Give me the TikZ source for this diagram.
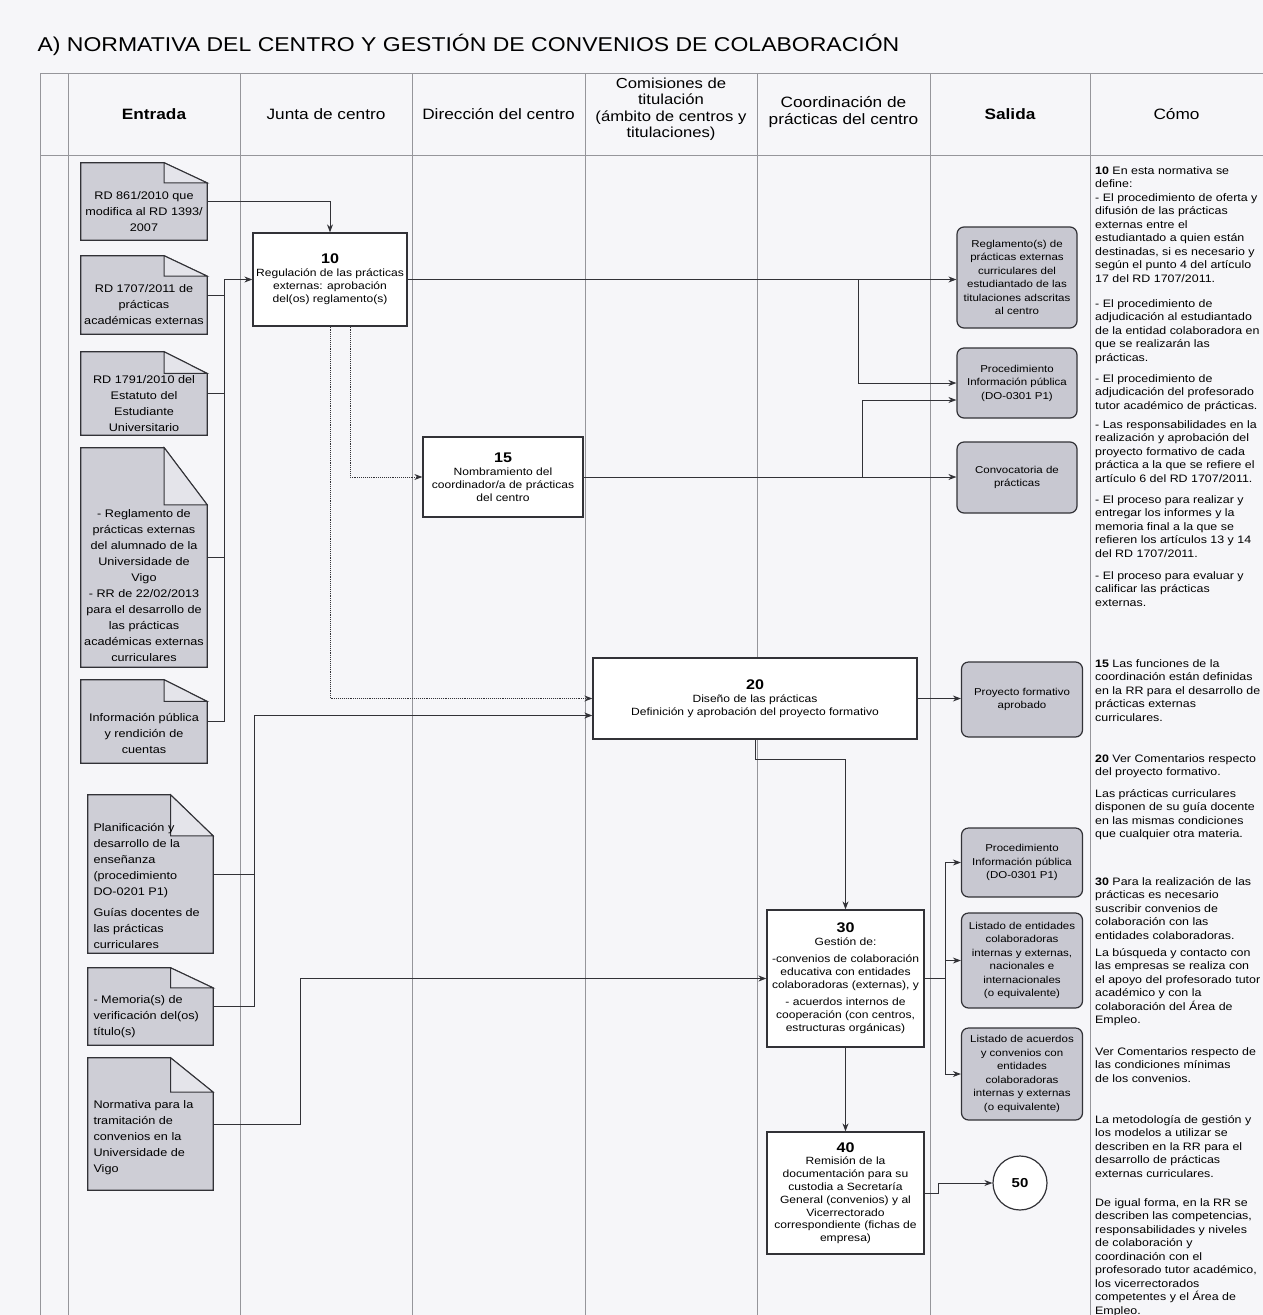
\documentclass[tikz,border=0pt]{standalone}
\usepackage{fontspec}
\setmainfont[FakeStretch=1.15]{Liberation Sans}
\usetikzlibrary{shapes,arrows,arrows.meta,positioning,backgrounds,calc}
\definecolor{paper}{RGB}{246,246,249}
\definecolor{docgray}{RGB}{206,206,214}
\definecolor{flapgray}{RGB}{228,228,234}
\definecolor{outgray}{RGB}{200,200,209}
\definecolor{gridgray}{RGB}{150,150,155}
\definecolor{ink}{RGB}{50,50,55}

% text of a document shape, pushed down below the folded corner
\newcommand{\docbody}[3]{\raisebox{-#1}[\height][\depth]{\parbox{#2}{#3}}}

\begin{document}
\begin{tikzpicture}[x=1pt, y=-1pt,
    lane/.style={draw=gridgray, line width=0.7pt},
    head/.style={font=\fontsize{15}{17}\selectfont, align=center},
    doc/.style={rectangle, inner sep=0pt, minimum width=126pt, font=\fontsize{11}{16}\selectfont},
    proc/.style={rectangle, draw=ink, fill=white, line width=1.3pt, align=center, inner sep=0pt, font=\fontsize{10.5}{13}\selectfont},
    outbox/.style={rectangle, rounded corners=7pt, draw=ink, fill=outgray, line width=1.2pt, align=center, inner sep=0pt, font=\fontsize{10}{13.5}\selectfont},
    como/.style={anchor=north west, align=left, inner sep=0pt, font=\fontsize{10.8}{13.5}\selectfont},
    arrow/.style={-{Stealth[length=8pt,width=6pt]}, draw=ink, line width=0.9pt},
    dotarrow/.style={arrow, densely dotted},
    conn/.style={draw=ink, line width=0.9pt}
]
\path[use as bounding box] (0,0) rectangle (1263,1315);
\begin{scope}[on background layer]
  \fill[paper] (0,0) rectangle (1263,1315);
\end{scope}
\clip (0,0) rectangle (1263,1315);

% swimlanes
\draw[lane] (40,73) -- (1263,73);
\draw[lane] (40,155) -- (1263,155);
\foreach \x in {40,68,240,412,585,757,930,1090}
  \draw[lane] (\x,73) -- (\x,1315);

\node[anchor=west, font=\fontsize{20}{24}\selectfont] (title) at (34,45) {A) NORMATIVA DEL CENTRO Y GESTIÓN DE CONVENIOS DE COLABORACIÓN};

\node[head, font=\fontsize{15}{17}\selectfont\bfseries] (hentrada) at (154,114) {Entrada};
\node[head] (hjunta) at (326,114) {Junta de centro};
\node[head] (hdireccion) at (498.5,114) {Dirección del centro};
\node[head, font=\fontsize{14.5}{16.5}\selectfont] (hcomisiones) at (671,109) {Comisiones de\\titulación\\(ámbito de centros y\\titulaciones)};
\node[head] (hcoord) at (843.5,112) {Coordinación de\\prácticas del centro};
\node[head, font=\fontsize{15}{17}\selectfont\bfseries] (hsalida) at (1010,114) {Salida};
\node[head] (hcomo) at (1176.5,114) {Cómo};

% entradas
\node[doc, minimum height=77pt] (rd861) at (144,201.5) {\docbody{10pt}{120pt}{\centering RD 861/2010 que\\modifica al RD 1393/\\2007}};
\node[doc, minimum height=78pt] (rd1707) at (144,295) {\docbody{10pt}{120pt}{\centering RD 1707/2011 de\\prácticas\\académicas externas}};
\node[doc, minimum height=83pt] (rd1791) at (144,393.5) {\docbody{10pt}{120pt}{\centering RD 1791/2010 del\\Estatuto del\\Estudiante\\Universitario}};
\node[doc, minimum height=219pt] (regl) at (144,557.5) {\docbody{28pt}{120pt}{\centering - Reglamento de\\prácticas externas\\del alumnado de la\\Universidade de\\Vigo\\- RR de 22/02/2013\\para el desarrollo de\\las prácticas\\académicas externas\\curriculares}};
\node[doc, minimum height=83pt] (infopub) at (144,721.5) {\docbody{12pt}{120pt}{\centering Información pública\\y rendición de\\cuentas}};
\node[doc, minimum width=125pt, minimum height=158pt] (planif) at (150.5,874) {\docbody{12pt}{114pt}{\raggedright Planificación y\\desarrollo de la\\enseñanza\\(procedimiento\\DO-0201 P1)\\[5pt]Guías docentes de\\las prácticas\\curriculares}};
\node[doc, minimum width=125pt, minimum height=77pt] (memoria) at (150.5,1006.5) {\docbody{10pt}{114pt}{\raggedright - Memoria(s) de\\verificación del(os)\\título(s)}};
\node[doc, minimum width=125pt, minimum height=132pt] (normconv) at (150.5,1124) {\docbody{14pt}{114pt}{\raggedright Normativa para la\\tramitación de\\convenios en la\\Universidade de\\Vigo}};

\foreach \d in {rd861,rd1707,rd1791,regl,infopub,planif,memoria,normconv} {
  \begin{scope}[on background layer]
    \coordinate (f1) at ($(\d.north east)!0.34!(\d.north west)$);
    \coordinate (f2) at ($(\d.north east)!0.26!(\d.south east)$);
    \filldraw[draw=ink, line width=1.2pt, fill=docgray] (\d.south west) -- (\d.south east) -- (f2) -- (f1) -- (\d.north west) -- cycle;
    \filldraw[draw=ink, line width=1pt, fill=flapgray] (f1) -- (f1 |- f2) -- (f2) -- cycle;
  \end{scope}
}

% actividades
\node[proc, minimum width=154pt, minimum height=93pt] (p10) at (330,279.5) {{\fontsize{14}{16}\selectfont\bfseries 10}\\Regulación de las prácticas\\externas: aprobación\\del(os) reglamento(s)};
\node[proc, minimum width=160pt, minimum height=80pt] (p15) at (503,477) {{\fontsize{14}{16}\selectfont\bfseries 15}\\Nombramiento del\\coordinador/a de prácticas\\del centro};
\node[proc, minimum width=324pt, minimum height=81pt] (p20) at (755,698.5) {{\fontsize{14}{16}\selectfont\bfseries 20}\\Diseño de las prácticas\\Definición y aprobación del proyecto formativo};
\node[proc, minimum width=157pt, minimum height=137pt] (p30) at (845.5,978.5) {{\fontsize{14}{16}\selectfont\bfseries 30}\\Gestión de:\\[4pt]-convenios de colaboración\\educativa con entidades\\colaboradoras (externas), y\\[4pt]- acuerdos internos de\\cooperación (con centros,\\estructuras orgánicas)};
\node[proc, minimum width=157pt, minimum height=122pt, font=\fontsize{10.5}{12.8}\selectfont] (p40) at (845.5,1193) {{\fontsize{14}{16}\selectfont\bfseries 40}\\Remisión de la\\documentación para su\\custodia a Secretaría\\General (convenios) y al\\Vicerrectorado\\correspondiente (fichas de\\empresa)};

% salidas
\node[outbox, minimum width=120pt, minimum height=101pt] (s1) at (1017,277.5) {Reglamento(s) de\\prácticas externas\\curriculares del\\estudiantado de las\\titulaciones adscritas\\al centro};
\node[outbox, minimum width=120pt, minimum height=70pt] (s2) at (1017,383) {Procedimiento\\Información pública\\(DO-0301 P1)};
\node[outbox, minimum width=120pt, minimum height=71pt] (s3) at (1017,477.5) {Convocatoria de\\prácticas};
\node[outbox, minimum width=121pt, minimum height=75pt] (s4) at (1022,699.5) {Proyecto formativo\\aprobado};
\node[outbox, minimum width=121pt, minimum height=69pt] (s5) at (1022,862.5) {Procedimiento\\Información pública\\(DO-0301 P1)};
\node[outbox, minimum width=121pt, minimum height=95pt] (s6) at (1022,960.5) {Listado de entidades\\colaboradoras\\internas y externas,\\nacionales e\\internacionales\\(o equivalente)};
\node[outbox, minimum width=121pt, minimum height=92pt] (s7) at (1022,1074) {Listado de acuerdos\\y convenios con\\entidades\\colaboradoras\\internas y externas\\(o equivalente)};
\node[circle, draw=ink, fill=white, line width=1.2pt, minimum size=54pt, inner sep=0pt, font=\fontsize{13}{15}\selectfont\bfseries] (c50) at (1020,1183) {50};

% como
\node[como] (como10) at (1095,166) {\textbf{10} En esta normativa se\\define:\\- El procedimiento de oferta y\\difusión de las prácticas\\externas entre el\\estudiantado a quien están\\destinadas, si es necesario y\\según el punto 4 del artículo\\17 del RD 1707/2011.};
\node[como] (comoadj) at (1095,299) {- El procedimiento de\\adjudicación al estudiantado\\de la entidad colaboradora en\\que se realizarán las\\prácticas.};
\node[como] (comotutor) at (1095,374) {- El procedimiento de\\adjudicación del profesorado\\tutor académico de prácticas.};
\node[como] (comoresp) at (1095,420) {- Las responsabilidades en la\\realización y aprobación del\\proyecto formativo de cada\\práctica a la que se refiere el\\artículo 6 del RD 1707/2011.};
\node[como] (comoinf) at (1095,495) {- El proceso para realizar y\\entregar los informes y la\\memoria final a la que se\\refieren los artículos 13 y 14\\del RD 1707/2011.};
\node[como] (comoeval) at (1095,571) {- El proceso para evaluar y\\calificar las prácticas\\externas.};
\node[como] (como15) at (1095,659) {\textbf{15} Las funciones de la\\coordinación están definidas\\en la RR para el desarrollo de\\prácticas externas\\curriculares.};
\node[como] (como20) at (1095,754) {\textbf{20} Ver Comentarios respecto\\del proyecto formativo.};
\node[como] (comoguia) at (1095,789) {Las prácticas curriculares\\disponen de su guía docente\\en las mismas condiciones\\que cualquier otra materia.};
\node[como] (como30) at (1095,877) {\textbf{30} Para la realización de las\\prácticas es necesario\\suscribir convenios de\\colaboración con las\\entidades colaboradoras.};
\node[como] (comobusq) at (1095,948) {La búsqueda y contacto con\\las empresas se realiza con\\el apoyo del profesorado tutor\\académico y con la\\colaboración del Área de\\Empleo.};
\node[como] (comover) at (1095,1047) {Ver Comentarios respecto de\\las condiciones mínimas\\de los convenios.};
\node[como] (comometod) at (1095,1115) {La metodología de gestión y\\los modelos a utilizar se\\describen en la RR para el\\desarrollo de prácticas\\externas curriculares.};
\node[como] (comoigual) at (1095,1198) {De igual forma, en la RR se\\describen las competencias,\\responsabilidades y niveles\\de colaboración y\\coordinación con el\\profesorado tutor académico,\\los vicerrectorados\\competentes y el Área de\\Empleo.};

% buses
\coordinate (busa) at (224,279.5);
\coordinate (busb) at (254,715.5);
\coordinate (busc) at (300,978.5);
\coordinate (busd) at (945,978.5);
\coordinate (jreg) at (858,279.5);
\coordinate (jconv) at (862,477);

\draw[arrow] (rd861.east) -| (p10.north);
\draw[conn] (rd1707.east) -- (rd1707.east -| busa);
\draw[conn] (rd1791.east) -- (rd1791.east -| busa);
\draw[conn] (regl.east) -- (regl.east -| busa);
\draw[arrow] (infopub.east) -| (busa) -- (p10.west);
\draw[arrow] (p10.east) -- (p10.east -| s1.west);
\draw[arrow] (jreg) |- (s2.west);
\draw[dotarrow] ([xshift=20pt]p10.south) |- (p15.west);
\draw[dotarrow] (p10.south) |- (p20.west);
\draw[arrow] (p15.east) -- (p15.east -| s3.west);
\draw[arrow] (jconv) |- ([yshift=-17pt]s2.west);
\draw[conn] (planif.east) -| (busb);
\draw[arrow] (memoria.east) -| (busb) -- ([yshift=-17pt]p20.west);
\draw[arrow] (normconv.east) -| (busc) -- (p30.west);
\draw[arrow] (p20.east) -- (p20.east -| s4.west);
\draw[arrow] (p20.south) -- ++(0,20) -| (p30.north);
\draw[conn] (p30.east) -- (busd);
\draw[arrow] (busd) |- (s5.west);
\draw[arrow] (busd) |- (s6.west);
\draw[arrow] (busd) |- (s7.west);
\draw[arrow] (p30.south) -- (p40.north);
\draw[arrow] (p40.east) -- ++(14,0) |- (c50.west);
\end{tikzpicture}
\end{document}
